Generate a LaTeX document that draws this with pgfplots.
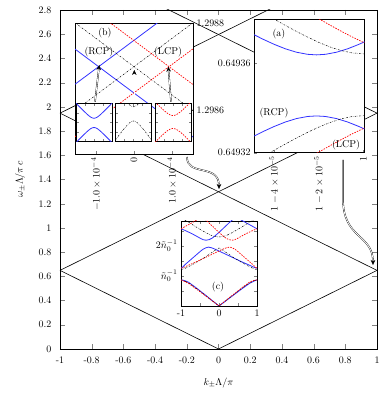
\documentclass[border=0pt]{standalone}
\usepackage{pgfplots}
\pgfplotsset{compat=1.18}
\usetikzlibrary{arrows.meta}
\definecolor{rcp}{rgb}{0.2,0.2,1}
\definecolor{lcp}{rgb}{1,0,0}
\pgfplotsset{
  inset/.style={scale only axis, anchor=south west, axis background/.style={fill=white},
    tick align=inside, major tick length=3bp, axis line style={line width=0.6pt}},
  bl/.style={rcp, line width=0.8pt},
  bk/.style={black, line width=0.5pt, dash pattern=on 1.6pt off 1.2pt on 0.3pt off 1.2pt},
  rd/.style={lcp, line width=0.7pt, dash pattern=on 1.5pt off 1.2pt},
}
\tikzset{dbl/.style={double, double distance=0.8pt, line width=0.35pt, -{Stealth[length=5pt,width=4.5pt]}}}
\begin{document}
\begin{tikzpicture}
\useasboundingbox (-60bp,-48bp) rectangle (323bp,349bp);
% ---------------- main axis
\begin{axis}[scale only axis, width=317bp, height=339bp, at={(0bp,0bp)}, anchor=south west,
  xmin=-1, xmax=1, ymin=0, ymax=2.8,
  xtick={-1,-0.8,-0.6,-0.4,-0.2,0,0.2,0.4,0.6,0.8,1},
  xticklabels={-1,-0.8,-0.6,-0.4,-0.2,0,0.2,0.4,0.6,0.8,1},
  ytick={0,0.2,0.4,0.6,0.8,1,1.2,1.4,1.6,1.8,2,2.2,2.4,2.6,2.8},
  yticklabels={0,0.2,0.4,0.6,0.8,1,1.2,1.4,1.6,1.8,2,2.2,2.4,2.6,2.8},
  tick align=inside, major tick length=5bp, axis line style={line width=0.6pt},
  xticklabel style={yshift=-4bp}, yticklabel style={xshift=-5bp},
  xlabel={$k_{\pm}\Lambda/\pi$}, ylabel={$\omega_{\pm}\Lambda/\pi\,c$},
  xlabel style={at={(axis description cs:0.5,-0.1)}, anchor=center},
  ylabel style={at={(axis description cs:-0.126,0.5)}, anchor=center},
]
\addplot[black, line width=0.6pt] coordinates {(-1,0.64934) (0,0) (1,0.64934)};
\addplot[black, line width=0.6pt] coordinates {(-1,0.64934) (0,1.29868) (1,0.64934)};
\addplot[black, line width=0.6pt] coordinates {(-1,1.94802) (0,1.29868) (1,1.94802)};
\addplot[black, line width=0.6pt] coordinates {(-1,1.94802) (0,2.59736) (1,1.94802)};
\addplot[black, line width=0.6pt] coordinates {(-1,3.24670) (0,2.59736) (1,3.24670)};
\end{axis}
% ---------------- inset (b): k near 0, omega near 1.2987
\begin{axis}[inset, at={(15bp,195bp)}, width=118bp, height=131bp,
  xmin=-1.55, xmax=1.55, ymin=0, ymax=3,
  xtick={-1,0,1}, xticklabels={$-1.0\times10^{-4}$,$0$,$1.0\times10^{-4}$},
  xticklabel style={rotate=90, anchor=east}, xtick pos=bottom,
  ytick={1,3}, yticklabels={1.2986,1.2988}, ytick pos=right, yticklabel pos=right]
\addplot[bl] coordinates {(-1.55,1.597) (1.55,3.610)};
\addplot[bl] coordinates {(-1.55,2.403) (1.55,0.390)};
\addplot[bk] coordinates {(-1.55,0.994) (1.55,3.006)};
\addplot[bk] coordinates {(-1.55,3.006) (1.55,0.994)};
\addplot[rd] coordinates {(-1.55,0.396) (1.55,2.409)};
\addplot[rd] coordinates {(-1.55,3.604) (1.55,1.591)};
\node at (axis description cs:0.254,0.924) {(b)};
\node at (axis description cs:0.203,0.779) {(RCP)};
\node at (axis description cs:0.788,0.779) {(LCP)};
\end{axis}
% ---------------- small insets inside (b)
\begin{axis}[inset, at={(16bp,207.3bp)}, width=36bp, height=38.4bp, major tick length=2.5bp,
  xmin=-1, xmax=1, ymin=-1, ymax=1, xtick={-0.5,0,0.5}, ytick={-0.5,0,0.5},
  xticklabels={}, yticklabels={}]
\addplot[bl] coordinates {(-1,1.008) (-0.8,0.815) (-0.6,0.626) (-0.4,0.447) (-0.3,0.364) (-0.2,0.292) (-0.1,0.24) (0,0.22) (0.1,0.24) (0.2,0.292) (0.3,0.364) (0.4,0.447) (0.6,0.626) (0.8,0.815) (1,1.008)};
\addplot[bl] coordinates {(-1,-1.048) (-0.8,-0.855) (-0.6,-0.666) (-0.4,-0.487) (-0.3,-0.404) (-0.2,-0.332) (-0.1,-0.28) (0,-0.26) (0.1,-0.28) (0.2,-0.332) (0.3,-0.404) (0.4,-0.487) (0.6,-0.666) (0.8,-0.855) (1,-1.048)};
\end{axis}
\begin{axis}[inset, at={(55.5bp,207.3bp)}, width=36bp, height=38.4bp, major tick length=2.5bp,
  xmin=-1, xmax=1, ymin=-1, ymax=1, xtick={-0.5,0,0.5}, ytick={-0.5,0,0.5},
  xticklabels={}, yticklabels={}]
\addplot[bk] coordinates {(-0.4,1.088) (-0.3,0.988) (-0.2,0.902) (-0.1,0.842) (0,0.82) (0.1,0.842) (0.2,0.902) (0.3,0.988) (0.4,1.088)};
\addplot[bk] coordinates {(-1,-0.902) (-0.8,-0.654) (-0.6,-0.413) (-0.4,-0.188) (-0.3,-0.088) (-0.2,-0.002) (-0.1,0.058) (0,0.08) (0.1,0.058) (0.2,-0.002) (0.3,-0.088) (0.4,-0.188) (0.6,-0.413) (0.8,-0.654) (1,-0.902)};
\end{axis}
\begin{axis}[inset, at={(95bp,207.3bp)}, width=36bp, height=38.4bp, major tick length=2.5bp,
  xmin=-1, xmax=1, ymin=-1, ymax=1, xtick={-0.5,0,0.5}, ytick={-0.5,0,0.5},
  xticklabels={}, yticklabels={}]
\addplot[rd] coordinates {(-1,1.08) (-0.8,0.892) (-0.6,0.712) (-0.4,0.547) (-0.3,0.475) (-0.2,0.415) (-0.1,0.375) (0,0.36) (0.1,0.375) (0.2,0.415) (0.3,0.475) (0.4,0.547) (0.6,0.712) (0.8,0.892) (1,1.08)};
\addplot[rd] coordinates {(-1,-1.03) (-0.8,-0.842) (-0.6,-0.662) (-0.4,-0.497) (-0.3,-0.425) (-0.2,-0.365) (-0.1,-0.325) (0,-0.31) (0.1,-0.325) (0.2,-0.365) (0.3,-0.425) (0.4,-0.497) (0.6,-0.662) (0.8,-0.842) (1,-1.03)};
\end{axis}
% ---------------- inset (a): k near 1, omega near 0.64935
\begin{axis}[inset, at={(194bp,196.3bp)}, width=110.5bp, height=133.7bp,
  xmin=-4.9, xmax=0.05, ymin=2, ymax=8,
  xtick={-4,-2,0}, xticklabels={$1-4\times10^{-5}$,$1-2\times10^{-5}$,$1$},
  xticklabel style={rotate=90, anchor=east}, xtick pos=bottom,
  ytick={2,6}, yticklabels={0.64932,0.64936}, ytick pos=left]
\addplot[bl] coordinates {(-4.9,7.296) (-4.5,7.095) (-4,6.864) (-3.5,6.664) (-3,6.510) (-2.5,6.415) (-2.1,6.390) (-1.7,6.415) (-1.2,6.510) (-0.7,6.664) (-0.2,6.864) (0.05,6.976)};
\addplot[bl] coordinates {(-4.9,2.744) (-4.5,2.945) (-4,3.176) (-3.5,3.376) (-3,3.531) (-2.5,3.626) (-2.1,3.650) (-1.7,3.626) (-1.2,3.531) (-0.7,3.376) (-0.2,3.176) (0.05,3.064)};
\addplot[bk] coordinates {(-4.9,8.522) (-4.5,8.285) (-4,7.996) (-3.5,7.714) (-3,7.443) (-2.5,7.187) (-2,6.952) (-1.5,6.747) (-1,6.584) (-0.5,6.477) (0,6.439) (0.05,6.440)};
\addplot[bk] coordinates {(-4.9,1.578) (-4.5,1.815) (-4,2.105) (-3.5,2.386) (-3,2.658) (-2.5,2.913) (-2,3.148) (-1.5,3.353) (-1,3.517) (-0.5,3.623) (0,3.661) (0.05,3.660)};
\addplot[rd] coordinates {(-2.2,8.13) (-2,8.014) (-1.5,7.729) (-1,7.455) (-0.5,7.194) (0,6.953) (0.05,6.930)};
\addplot[rd] coordinates {(-2.2,1.91) (-2,2.026) (-1.5,2.311) (-1,2.585) (-0.5,2.846) (0,3.087) (0.05,3.110)};
\node at (axis description cs:0.226,0.888) {(a)};
\node at (axis description cs:0.181,0.297) {(RCP)};
\node at (axis description cs:0.833,0.058) {(LCP)};
\end{axis}
% ---------------- inset (c)
\begin{axis}[inset, at={(121bp,43bp)}, width=76bp, height=85bp,
  xmin=-1, xmax=1, ymin=0, ymax=2.83,
  xtick={-1,-0.5,0,0.5,1}, xticklabels={-1,,0,,1},
  ytick={0.5,1,1.5,2,2.5}, yticklabels={,$\tilde{n}_0^{-1}$,,$2\tilde{n}_0^{-1}$,}]
% RCP
\addplot[bl] coordinates {(-1,0.867) (-0.95,0.86) (-0.9,0.845) (-0.8,0.79) (-0.6,0.605) (-0.4,0.405) (-0.2,0.203) (0,0) (0.2,0.19) (0.4,0.38) (0.6,0.57) (0.8,0.75) (0.9,0.815) (0.95,0.845) (1,0.867)};
\addplot[bl] coordinates {(-1,1.26) (-0.95,1.3) (-0.9,1.37) (-0.8,1.48) (-0.7,1.59) (-0.6,1.7) (-0.5,1.81) (-0.42,1.89) (-0.34,1.94) (-0.28,1.96) (-0.2,1.94) (-0.1,1.89) (0,1.83) (0.2,1.71) (0.4,1.59) (0.6,1.47) (0.8,1.36) (0.9,1.3) (0.95,1.275) (1,1.26)};
\addplot[bl] coordinates {(-1,2.57) (-0.9,2.52) (-0.8,2.46) (-0.7,2.4) (-0.6,2.33) (-0.5,2.26) (-0.42,2.21) (-0.34,2.19) (-0.26,2.21) (-0.18,2.26) (-0.1,2.34) (0,2.45) (0.1,2.57) (0.2,2.69) (0.3,2.81) (0.38,2.9) (0.46,2.94) (0.54,2.9) (0.6,2.85) (0.7,2.78) (0.8,2.71) (0.9,2.64) (1,2.57)};
% unpolarised reference
\addplot[bk] coordinates {(-1,0.87) (-0.95,0.855) (-0.9,0.83) (-0.8,0.77) (-0.6,0.59) (-0.4,0.395) (-0.2,0.197) (0,0) (0.2,0.197) (0.4,0.395) (0.6,0.59) (0.8,0.77) (0.9,0.83) (0.95,0.855) (1,0.87)};
\addplot[bk] coordinates {(-1,1.22) (-0.95,1.225) (-0.9,1.25) (-0.8,1.31) (-0.6,1.45) (-0.4,1.6) (-0.2,1.77) (-0.1,1.86) (0,1.93) (0.1,1.86) (0.2,1.77) (0.4,1.6) (0.6,1.45) (0.8,1.31) (0.9,1.25) (0.95,1.225) (1,1.22)};
\addplot[bk] coordinates {(-1,2.93) (-0.8,2.79) (-0.6,2.63) (-0.4,2.48) (-0.3,2.41) (-0.2,2.35) (-0.1,2.31) (0,2.3) (0.1,2.31) (0.2,2.35) (0.3,2.41) (0.4,2.48) (0.6,2.63) (0.8,2.79) (1,2.93)};
% LCP
\addplot[rd] coordinates {(-1,0.867) (-0.95,0.845) (-0.9,0.815) (-0.8,0.75) (-0.6,0.57) (-0.4,0.38) (-0.2,0.19) (0,0) (0.2,0.203) (0.4,0.405) (0.6,0.605) (0.8,0.79) (0.9,0.845) (0.95,0.86) (1,0.867)};
\addplot[rd] coordinates {(-1,1.26) (-0.95,1.275) (-0.9,1.3) (-0.8,1.36) (-0.6,1.47) (-0.4,1.59) (-0.2,1.71) (0,1.83) (0.1,1.89) (0.2,1.94) (0.28,1.96) (0.34,1.94) (0.42,1.89) (0.5,1.81) (0.6,1.7) (0.7,1.59) (0.8,1.48) (0.9,1.37) (0.95,1.3) (1,1.26)};
\addplot[rd] coordinates {(-1,2.57) (-0.9,2.64) (-0.8,2.71) (-0.7,2.78) (-0.6,2.85) (-0.54,2.9) (-0.46,2.94) (-0.38,2.9) (-0.3,2.81) (-0.2,2.69) (-0.1,2.57) (0,2.45) (0.1,2.34) (0.18,2.26) (0.26,2.21) (0.34,2.19) (0.42,2.21) (0.5,2.26) (0.6,2.33) (0.7,2.4) (0.8,2.46) (0.9,2.52) (1,2.57)};
\node at (axis description cs:0.487,0.224) {(c)};
\end{axis}
% ---------------- arrows
\draw[dbl] (35bp,247.3bp) -- (39.3bp,284bp);
\draw[dbl] (74.3bp,246bp) -- (74.3bp,279bp);
\draw[dbl] (111bp,247.3bp) -- (108.3bp,282.3bp);
\draw[dbl] (127bp,192bp) .. controls (127bp,172bp) and (159bp,186bp) .. (159bp,160bp);
\draw[dbl] (283bp,189bp) -- (283bp,150bp) .. controls (283bp,110bp) and (313bp,115bp) .. (313bp,84bp);
\end{tikzpicture}
\end{document}
